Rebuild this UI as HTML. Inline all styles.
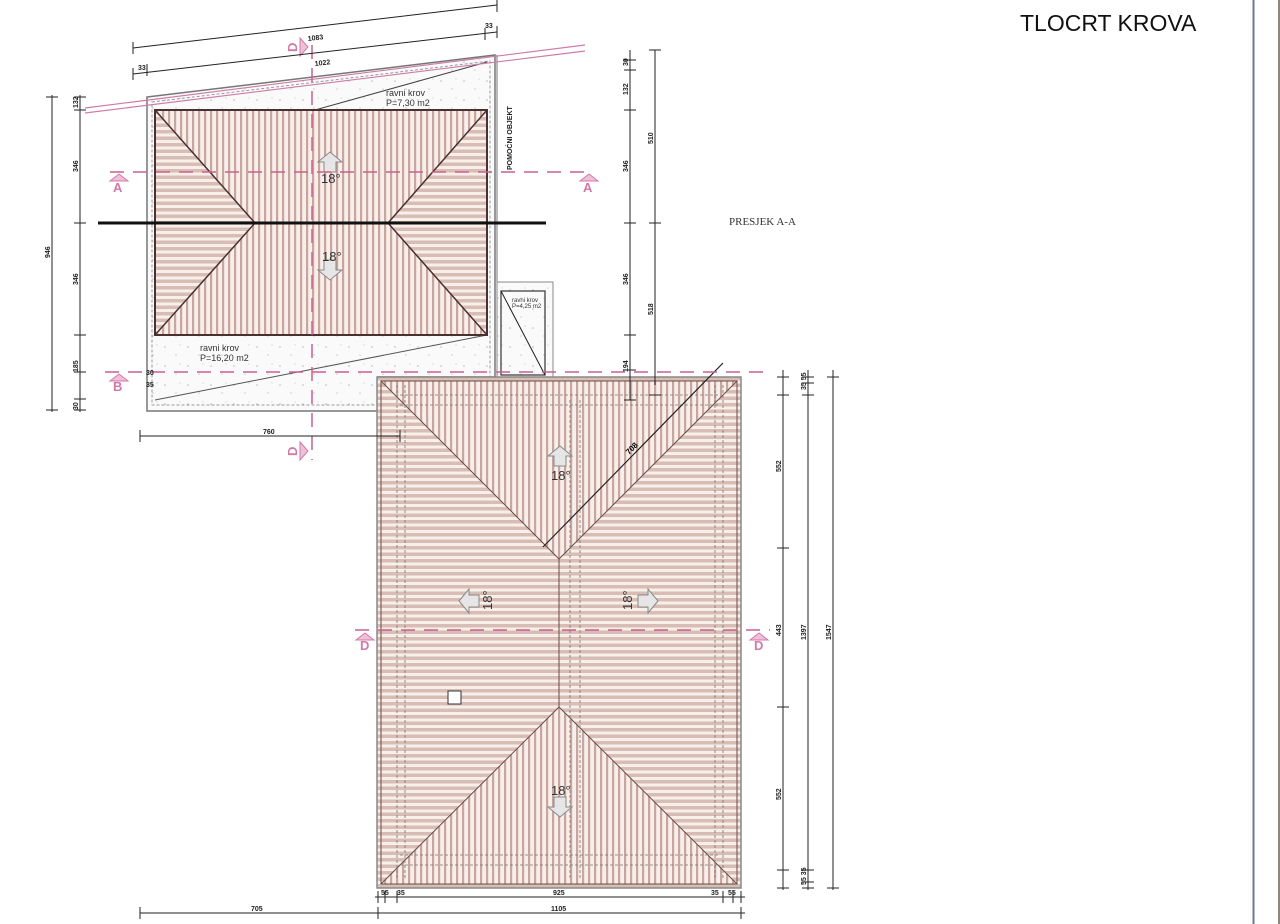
<!DOCTYPE html>
<html><head><meta charset="utf-8"><style>
html,body{margin:0;padding:0;background:#fff;width:1280px;height:924px;overflow:hidden}
svg{display:block}
text{font-family:"Liberation Sans",sans-serif}
</style></head><body>
<svg width="1280" height="924" viewBox="0 0 1280 924" xmlns="http://www.w3.org/2000/svg">
<defs>
<pattern id="h" width="10" height="6.5" patternUnits="userSpaceOnUse">
<rect width="10" height="6.5" fill="#f8efeb"/><rect y="0" width="10" height="3.5" fill="#d8bdb4"/>
</pattern>
<pattern id="v" width="6" height="10" patternUnits="userSpaceOnUse">
<rect width="6" height="10" fill="#f8efeb"/><rect x="0" width="2.2" height="10" fill="#c9a69d"/>
</pattern>
<pattern id="sp" width="23" height="19" patternUnits="userSpaceOnUse">
<rect width="23" height="19" fill="#fafafa"/><circle cx="4" cy="5" r="0.8" fill="#bbb"/><circle cx="15" cy="13" r="0.8" fill="#ccc"/><circle cx="19" cy="3" r="0.6" fill="#ccc"/>
</pattern>
<g id="arU"><path d="M0,-12 L12,-2 L6,-2 L6,8 L-6,8 L-6,-2 L-12,-2 Z" fill="#e6e6e6" stroke="#888" stroke-width="1"/></g>
</defs>

<line x1="1253.5" y1="0" x2="1253.5" y2="924" stroke="#6d7a88" stroke-width="2"/>
<line x1="1279" y1="0" x2="1279" y2="924" stroke="#6a6055" stroke-width="1.5"/>
<text x="1020" y="31" font-size="23" fill="#111">TLOCRT KROVA</text>
<text x="729" y="225" font-size="11" fill="#333" style="font-family:'Liberation Serif',serif">PRESJEK A-A</text>

<polygon points="147,97 495,55 495,377 378,377 378,411 147,411" fill="url(#sp)" stroke="#777" stroke-width="1.5"/>
<polygon points="152,102 490,61 490,377 378,377 378,405 152,405" fill="none" stroke="#999" stroke-width="1" stroke-dasharray="3,2"/>
<line x1="497" y1="55" x2="497" y2="377" stroke="#777"/>
<line x1="315" y1="110" x2="487" y2="62" stroke="#444"/>
<line x1="155" y1="400" x2="487" y2="335" stroke="#555"/>
<text x="386" y="96" font-size="9" fill="#333">ravni krov</text>
<text x="386" y="106" font-size="9" fill="#333">P=7,30 m2</text>
<text x="200" y="351" font-size="9" fill="#333">ravni krov</text>
<text x="200" y="361" font-size="9" fill="#333">P=16,20 m2</text>
<text x="0" y="0" font-size="7" font-weight="bold" fill="#222" transform="translate(512,170) rotate(-90)">POMOĆNI OBJEKT</text>

<rect x="497" y="282" width="56" height="95" fill="url(#sp)" stroke="#888"/>
<rect x="501" y="291" width="44" height="84" fill="none" stroke="#333" stroke-width="1.2"/>
<line x1="501" y1="291" x2="545" y2="375" stroke="#222"/>
<text x="512" y="302" font-size="6" fill="#333">ravni krov</text>
<text x="512" y="308" font-size="6" fill="#333">P=4,25 m2</text>

<polygon points="155,110 487,110 388,223 255,223" fill="url(#v)"/>
<polygon points="255,223 388,223 487,335 155,335" fill="url(#v)"/>
<polygon points="155,110 255,223 155,335" fill="url(#h)"/>
<polygon points="487,110 388,223 487,335" fill="url(#h)"/>
<g stroke="#4a3030" stroke-width="1.5" fill="none">
<rect x="155" y="110" width="332" height="225" stroke-width="2"/>
<polyline points="155,110 255,223 155,335"/><polyline points="487,110 388,223 487,335"/>
</g>
<line x1="98" y1="223" x2="546" y2="223" stroke="#111" stroke-width="3"/>
<use href="#arU" transform="translate(330,164)"/>
<text x="321" y="183" font-size="13" fill="#333">18°</text>
<use href="#arU" transform="translate(330,268) rotate(180)"/>
<text x="322" y="261" font-size="13" fill="#333">18°</text>

<rect x="377" y="377" width="364" height="511" fill="url(#h)" stroke="#888" stroke-width="1.5"/>
<polygon points="381,381 737,381 559,559" fill="url(#v)"/>
<polygon points="559,707 737,884 381,884" fill="url(#v)"/>
<g stroke="#6a4a45" stroke-width="1" fill="none">
<polyline points="381,381 559,559 737,381"/>
<polyline points="381,884 559,707 737,884"/>
<line x1="559" y1="559" x2="559" y2="707"/>
<rect x="381" y="381" width="356" height="503"/>
</g>
<g stroke="#777" stroke-width="0.8" stroke-dasharray="3,2" fill="none">
<line x1="397" y1="385" x2="397" y2="880"/><line x1="405" y1="385" x2="405" y2="880"/>
<line x1="715" y1="385" x2="715" y2="880"/><line x1="723" y1="385" x2="723" y2="880"/>
<line x1="570" y1="400" x2="570" y2="880"/><line x1="580" y1="400" x2="580" y2="880"/>
<line x1="400" y1="395" x2="720" y2="395"/><line x1="400" y1="405" x2="720" y2="405"/>
<line x1="400" y1="855" x2="720" y2="855"/><line x1="400" y1="865" x2="720" y2="865"/>
</g>
<line x1="543" y1="547" x2="723" y2="363" stroke="#222" stroke-width="1.2"/>
<text x="0" y="0" font-size="8" font-weight="bold" transform="translate(629,455) rotate(-45)">708</text>
<rect x="448" y="691" width="13" height="13" fill="#fff" stroke="#333"/>
<use href="#arU" transform="translate(560,458)"/>
<text x="551" y="480" font-size="13" fill="#333">18°</text>
<use href="#arU" transform="translate(560,805) rotate(180)"/>
<text x="551" y="795" font-size="13" fill="#333">18°</text>
<use href="#arU" transform="translate(471,601) rotate(-90)"/>
<text x="0" y="0" font-size="13" fill="#333" transform="translate(492,610) rotate(-90)">18°</text>
<use href="#arU" transform="translate(646,601) rotate(90)"/>
<text x="0" y="0" font-size="13" fill="#333" transform="translate(632,610) rotate(-90)">18°</text>

<g stroke="#d07aa8" stroke-width="1.2" fill="none">
<line x1="85" y1="108" x2="585" y2="45"/><line x1="85" y1="113" x2="585" y2="51"/>
</g>
<g stroke="#c9608f" stroke-width="1.5" stroke-dasharray="14,9" fill="none">
<line x1="110" y1="172" x2="590" y2="172"/>
<line x1="105" y1="372" x2="770" y2="372"/>
<line x1="355" y1="630" x2="770" y2="630"/>
<line x1="312" y1="45" x2="312" y2="460"/>
</g>
<g fill="#d07aa8" font-size="13" font-weight="bold">
<text x="113" y="192">A</text><text x="583" y="192">A</text>
<text x="113" y="391">B</text>
<text x="360" y="650">D</text><text x="754" y="650">D</text>
<text x="0" y="0" transform="translate(297,52) rotate(-90)">D</text>
<text x="0" y="0" transform="translate(297,456) rotate(-90)">D</text>
<polygon points="110,181 119,174 128,181" fill="#f0c0d8" stroke="#d07aa8"/>
<polygon points="580,181 589,174 598,181" fill="#f0c0d8" stroke="#d07aa8"/>
<polygon points="110,381 119,374 128,381" fill="#f0c0d8" stroke="#d07aa8"/>
<polygon points="356,640 365,633 374,640" fill="#f0c0d8" stroke="#d07aa8"/>
<polygon points="750,640 759,633 768,640" fill="#f0c0d8" stroke="#d07aa8"/>
<polygon points="300,38 308,47 300,56" fill="#f0c0d8" stroke="#d07aa8"/>
<polygon points="300,442 308,451 300,460" fill="#f0c0d8" stroke="#d07aa8"/>
</g>

<g stroke="#222" stroke-width="1" fill="none">
<line x1="52" y1="95" x2="52" y2="412"/>
<line x1="80" y1="95" x2="80" y2="412"/>
<line x1="133" y1="48" x2="497" y2="5"/>
<line x1="133" y1="74" x2="497" y2="32"/>
<line x1="630" y1="50" x2="630" y2="400"/>
<line x1="655" y1="50" x2="655" y2="385"/>
<line x1="783" y1="370" x2="783" y2="890"/>
<line x1="808" y1="370" x2="808" y2="890"/>
<line x1="833" y1="370" x2="833" y2="890"/>
<line x1="375" y1="897" x2="745" y2="897"/>
<line x1="140" y1="913" x2="745" y2="913"/>
<line x1="140" y1="436" x2="400" y2="436"/>
</g>
<g stroke="#222" stroke-width="1">
<path d="M46,97h12M46,410h12M74,97h12M74,110h12M74,223h12M74,335h12M74,372h12M74,399h12M74,410h12"/>
<path d="M624,60h12M624,70h12M624,110h12M624,223h12M624,335h12M624,370h12M624,400h12M649,50h12M649,223h12M649,395h12"/>
<path d="M777,377h12M777,395h12M777,548h12M777,707h12M777,870h12M777,888h12M802,377h12M802,383h12M802,395h12M802,870h12M802,882h12M802,888h12M827,377h12M827,888h12"/>
<path d="M378,891v12M385,891v12M397,891v12M723,891v12M733,891v12M741,891v12M140,907v12M378,907v12M741,907v12M140,430v12M400,430v12"/>
<path d="M133,42v12M133,68v12M497,0v12M497,26v12M147,64v12M485,28v12"/>
</g>
<g font-size="7" font-weight="bold" fill="#222">
<text x="308" y="41" transform="rotate(-6.7 308 41)">1083</text>
<text x="315" y="66" transform="rotate(-6.7 315 66)">1022</text>
<text x="138" y="70">33</text><text x="485" y="28">33</text>
<text x="0" y="0" transform="translate(50,258) rotate(-90)">946</text>
<text x="0" y="0" transform="translate(78,108) rotate(-90)">132</text>
<text x="0" y="0" transform="translate(78,172) rotate(-90)">346</text>
<text x="0" y="0" transform="translate(78,285) rotate(-90)">346</text>
<text x="0" y="0" transform="translate(78,372) rotate(-90)">185</text>
<text x="0" y="0" transform="translate(78,410) rotate(-90)">30</text>
<text x="146" y="375">30</text><text x="146" y="387">35</text>
<text x="0" y="0" transform="translate(628,66) rotate(-90)">30</text>
<text x="0" y="0" transform="translate(628,95) rotate(-90)">132</text>
<text x="0" y="0" transform="translate(628,172) rotate(-90)">346</text>
<text x="0" y="0" transform="translate(628,285) rotate(-90)">346</text>
<text x="0" y="0" transform="translate(628,372) rotate(-90)">194</text>
<text x="0" y="0" transform="translate(653,144) rotate(-90)">510</text>
<text x="0" y="0" transform="translate(653,315) rotate(-90)">518</text>
<text x="0" y="0" transform="translate(781,472) rotate(-90)">552</text>
<text x="0" y="0" transform="translate(781,636) rotate(-90)">443</text>
<text x="0" y="0" transform="translate(781,800) rotate(-90)">552</text>
<text x="0" y="0" transform="translate(806,390) rotate(-90)">35 55</text>
<text x="0" y="0" transform="translate(806,885) rotate(-90)">55 35</text>
<text x="0" y="0" transform="translate(806,640) rotate(-90)">1397</text>
<text x="0" y="0" transform="translate(831,640) rotate(-90)">1547</text>
<text x="381" y="895">55</text><text x="397" y="895">35</text>
<text x="553" y="895">925</text>
<text x="711" y="895">35</text><text x="728" y="895">55</text>
<text x="251" y="911">705</text><text x="551" y="911">1105</text>
<text x="263" y="434">760</text>
</g>
</svg>
</body></html>
